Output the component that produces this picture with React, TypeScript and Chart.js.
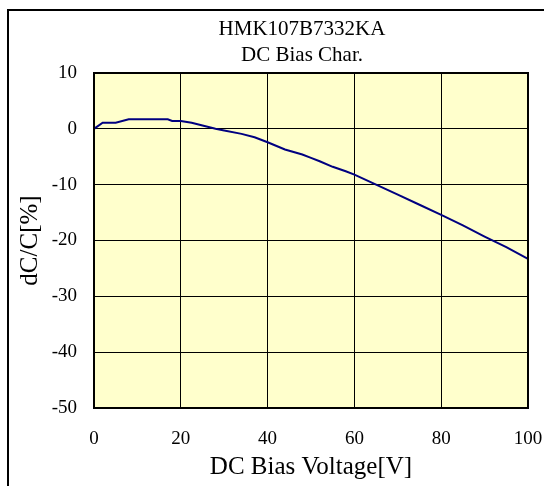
import React, { useEffect, useRef } from "react";
import { Chart, registerables } from "chart.js";

Chart.register(...registerables);

const titleLines = ["HMK107B7332KA", "DC Bias Char."];
const xAxisTitle = "DC Bias Voltage[V]";
const yAxisTitle = "dC/C[%]";

const voltages = [0, 2, 5, 8, 17, 18, 20, 22.5, 25, 28, 30, 34, 37, 40, 44, 48, 50, 52, 55, 58, 60, 65, 70, 75, 80, 85, 90, 95, 100];
const dcValues = [0, 1.1, 1.1, 1.7, 1.7, 1.4, 1.4, 1.1, 0.6, 0, -0.3, -0.9, -1.5, -2.4, -3.7, -4.6, -5.2, -5.8, -6.8, -7.6, -8.2, -10, -11.8, -13.6, -15.4, -17.3, -19.3, -21.2, -23.3];

const xMin = 0, xMax = 100, xStep = 20;
const yMin = -50, yMax = 10, yStep = 10;

const SERIF = "'Liberation Serif', 'Times New Roman', serif";

const framePlugin = {
  id: "frameAndTitle",
  beforeDraw(chart: any) {
    const { ctx, chartArea } = chart;
    ctx.save();
    ctx.fillStyle = "#ffffff";
    ctx.fillRect(0, 0, chart.width, chart.height);
    ctx.strokeStyle = "#000";
    ctx.lineWidth = 2;
    ctx.strokeRect(8, 10, 700, 700);
    ctx.fillStyle = "#FFFFCC";
    ctx.fillRect(chartArea.left, chartArea.top, chartArea.right - chartArea.left, chartArea.bottom - chartArea.top);
    ctx.fillStyle = "#000";
    ctx.font = "21px " + SERIF;
    ctx.textAlign = "center";
    ctx.textBaseline = "middle";
    ctx.fillText(titleLines[0], 302, 29);
    ctx.fillText(titleLines[1], 302, 55);
    ctx.restore();
  },
  afterDraw(chart: any) {
    const { ctx, chartArea } = chart;
    ctx.save();
    ctx.strokeStyle = "#000";
    ctx.lineWidth = 2;
    ctx.strokeRect(chartArea.left, chartArea.top, chartArea.right - chartArea.left, chartArea.bottom - chartArea.top);
    ctx.restore();
  },
};

export default function App() {
  const ref = useRef<HTMLCanvasElement | null>(null);
  useEffect(() => {
    if (!ref.current) return;
    const chart = new Chart(ref.current, {
      type: "line",
      data: {
        datasets: [
          {
            data: voltages.map((v, i) => ({ x: v, y: dcValues[i] })),
            borderColor: "#000080",
            borderWidth: 2,
            pointRadius: 0,
            fill: false,
            tension: 0,
          },
        ],
      },
      options: {
        animation: false,
        responsive: false,
        devicePixelRatio: 1,
        layout: { padding: { left: 0, right: 16, top: 73, bottom: 0 } },
        plugins: { legend: { display: false }, tooltip: { enabled: false }, title: { display: false } },
        scales: {
          x: {
            type: "linear",
            min: xMin,
            max: xMax,
            ticks: { stepSize: xStep, padding: 20, color: "#000", font: { family: SERIF, size: 19 }, maxRotation: 0 },
            grid: { color: "#000", lineWidth: 1, drawTicks: false },
            border: { display: false },
            title: { display: true, text: xAxisTitle, color: "#000", font: { family: SERIF, size: 25 }, padding: { top: 0, bottom: 4 } },
            afterFit(scale: any) {
              scale.height = 78;
              scale.paddingLeft = 0;
              scale.paddingRight = 0;
            },
          },
          y: {
            type: "linear",
            min: yMin,
            max: yMax,
            ticks: { stepSize: yStep, padding: 17, color: "#000", font: { family: SERIF, size: 19 } },
            grid: { color: "#000", lineWidth: 1, drawTicks: false },
            border: { display: false },
            title: { display: true, text: yAxisTitle, color: "#000", font: { family: SERIF, size: 25 }, padding: { top: 15, bottom: 0 } },
            afterFit(scale: any) {
              scale.width = 94;
              scale.paddingTop = 0;
              scale.paddingBottom = 0;
            },
          },
        },
      },
      plugins: [framePlugin],
    });
    return () => chart.destroy();
  }, []);
  return (
    <div style={{ position: "fixed", left: 0, top: 0, width: 544, height: 486 }}>
      <canvas ref={ref} width={544} height={486} style={{ width: 544, height: 486, display: "block" }} />
    </div>
  );
}
